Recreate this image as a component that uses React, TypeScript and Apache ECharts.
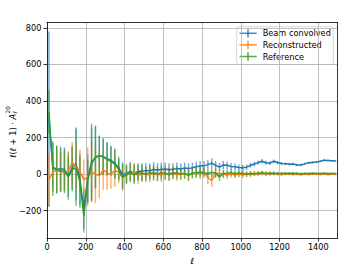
import React, { useEffect, useRef } from 'react';
import * as echarts from 'echarts';

const ells = [10, 30, 50, 70, 90, 110, 130, 150, 170, 190, 210, 230, 250, 270, 290, 310, 330, 350, 370, 390,
  410, 430, 450, 470, 490, 510, 530, 550, 570, 590, 610, 630, 650, 670, 690, 710, 730, 750, 770, 790,
  810, 830, 850, 870, 890, 910, 930, 950, 970, 990, 1010, 1030, 1050, 1070, 1090, 1110, 1130, 1150, 1170, 1190,
  1210, 1230, 1250, 1270, 1290, 1310, 1330, 1350, 1370, 1390, 1410, 1430, 1450, 1470, 1490];

const beamValues = [300, 40, 25, 30, 25, -10, 35, 55, -30, -190, -20, 65, 90, 100, 95, 85, 75, 60, 35, -5,
  5, 15, 5, 15, 15, 20, 18, 25, 22, 25, 28, 24, 26, 30, 28, 33, 30, 35, 40, 44,
  45, 52, 60, 48, 38, 50, 48, 42, 40, 36, 35, 38, 48, 55, 63, 70, 62, 60, 70, 63,
  58, 56, 54, 55, 50, 50, 56, 62, 64, 66, 70, 76, 75, 73, 71];
const beamErrors = [480, 130, 130, 120, 120, 130, 120, 200, 140, 110, 130, 210, 170, 110, 100, 90, 80, 80, 60, 70,
  50, 50, 50, 45, 45, 40, 40, 40, 38, 38, 35, 35, 33, 33, 30, 30, 30, 28, 28, 27,
  26, 25, 25, 24, 23, 22, 20, 19, 18, 17, 16, 15, 14, 13, 12, 12, 11, 10, 10, 9,
  9, 8, 8, 7, 7, 7, 6, 6, 6, 5, 5, 5, 5, 4, 4];

const reconValues = [-30, 10, 20, 12, 10, 15, 65, 40, 15, -30, -15, 15, 0, -10, 25, 5, 0, 20, 10, -20,
  0, 5, 10, -10, 5, 0, -5, 10, 0, -5, 5, 0, 10, -5, 0, 5, -10, 5, 10, 0,
  15, -20, -35, 5, 5, 0, -5, 0, -5, 0, -5, 0, -3, 2, 0, 5, 0, 8, 3, 0,
  -2, 0, 2, -2, 0, -3, 0, -2, 0, 2, -2, 0, -3, 0, -2];
const reconErrors = [145, 110, 120, 110, 100, 110, 110, 120, 120, 110, 160, 170, 160, 120, 110, 90, 80, 90, 60, 70,
  50, 50, 50, 45, 45, 40, 40, 40, 38, 38, 35, 35, 33, 33, 30, 30, 30, 28, 28, 27,
  26, 35, 35, 24, 23, 22, 20, 19, 18, 17, 16, 15, 14, 13, 12, 12, 11, 10, 10, 9,
  9, 8, 8, 7, 7, 7, 6, 6, 6, 5, 5, 5, 5, 4, 4];

const refValues = [340, 30, 25, 20, 15, -15, 25, 35, -45, -230, -40, 55, 95, 100, 95, 80, 70, 55, 25, -15,
  -5, 10, -5, 8, 5, 0, 8, 5, 0, 8, 3, -2, 5, 8, 0, 4, -5, 5, 8, 12,
  6, 2, 10, 5, -15, 3, 5, 8, 2, 4, 4, 0, 4, 2, 5, 7, 4, 2, 5, 3,
  3, 4, 3, 4, 3, 2, 3, 3, 4, 3, 3, 4, 3, 3, 3];
const refErrors = [120, 150, 130, 120, 120, 110, 120, 210, 140, 90, 120, 200, 170, 110, 100, 90, 80, 80, 60, 70,
  50, 50, 50, 45, 45, 40, 40, 40, 38, 38, 35, 35, 33, 33, 30, 30, 30, 28, 28, 27,
  26, 25, 25, 24, 23, 22, 20, 19, 18, 17, 16, 15, 14, 13, 12, 12, 11, 10, 10, 9,
  9, 8, 8, 7, 7, 7, 6, 6, 6, 5, 5, 5, 5, 4, 4];

const seriesNames = ['Beam convolved', 'Reconstructed', 'Reference'];
const xTicks = [0, 200, 400, 600, 800, 1000, 1200, 1400];
const yTicks = [-200, 0, 200, 400, 600, 800];
const colors = ['#1f77b4', '#ff7f0e', '#2ca02c'];

const FONT = 'DejaVu Sans';

const fmt = (v: number) => (v < 0 ? '\u2212' + String(-v) : String(v));

export default function App() {
  const ref = useRef<HTMLDivElement>(null);
  useEffect(() => {
    document.body.style.margin = '0';
    const chart = echarts.init(ref.current as HTMLDivElement, null, { renderer: 'svg' });
    const sets = [
      { v: beamValues, e: beamErrors },
      { v: reconValues, e: reconErrors },
      { v: refValues, e: refErrors },
    ];
    const series: any[] = [];
    sets.forEach((s, si) => {
      const color = colors[si];
      series.push({
        type: 'custom',
        name: seriesNames[si] + ' err',
        xAxisIndex: 0,
        yAxisIndex: 0,
        data: ells.map((x, i) => [x, s.v[i] - s.e[i], s.v[i] + s.e[i]]),
        encode: { x: 0, y: [1, 2] },
        renderItem: (params: any, api: any) => {
          const x = api.value(0);
          const p1 = api.coord([x, api.value(1)]);
          const p2 = api.coord([x, api.value(2)]);
          return {
            type: 'line',
            shape: { x1: p1[0], y1: p1[1], x2: p2[0], y2: p2[1] },
            style: { stroke: color, lineWidth: 1.4, opacity: 0.65 },
          };
        },
        z: 2,
      });
      series.push({
        type: 'line',
        name: seriesNames[si],
        xAxisIndex: 0,
        yAxisIndex: 0,
        data: ells.map((x, i) => [x, s.v[i]]),
        symbol: 'none',
        lineStyle: { color, width: 1.5 },
        itemStyle: { color },
        z: 2,
      });
    });

    const rows = [33.3, 44.9, 56.5];
    const legendChildren: any[] = [
      {
        type: 'rect',
        shape: { x: 236.7, y: 26.7, width: 96.6, height: 37.8, r: 2 },
        style: { fill: 'rgba(255,255,255,0.8)', stroke: '#cccccc', lineWidth: 0.8 },
      },
    ];
    rows.forEach((y, i) => {
      legendChildren.push({
        type: 'line',
        shape: { x1: 239.5, y1: y, x2: 256.7, y2: y },
        style: { stroke: colors[i], lineWidth: 1.5, opacity: 0.85 },
      });
      legendChildren.push({
        type: 'line',
        shape: { x1: 248, y1: y - 4.2, x2: 248, y2: y + 4.2 },
        style: { stroke: colors[i], lineWidth: 1.5, opacity: 0.85 },
      });
      legendChildren.push({
        type: 'text',
        x: 262.7,
        y: y,
        style: {
          text: seriesNames[i],
          fontSize: 8.2,
          fontFamily: FONT,
          fill: '#000',
          textAlign: 'left',
          textVerticalAlign: 'middle',
        },
      });
    });

    const option: any = {
      animation: false,
      backgroundColor: '#ffffff',
      grid: { left: 47, top: 22.7, right: 19.3, bottom: 31.7, containLabel: false },
      xAxis: [
        {
          type: 'value',
          min: 0,
          max: 1500,
          minInterval: 200,
          maxInterval: 200,
          name: 'ℓ',
          nameLocation: 'middle',
          nameGap: 14,
          nameTextStyle: { fontSize: 8.5, fontFamily: FONT, fontStyle: 'italic', color: '#000' },
          axisLine: { show: true, onZero: false, lineStyle: { color: '#000', width: 0.8 } },
          axisTick: { show: true, length: 3.5, lineStyle: { color: '#000', width: 0.8 }, customValues: xTicks },
          axisLabel: { fontSize: 8.2, fontFamily: FONT, color: '#000', margin: 5, customValues: xTicks, formatter: fmt },
          splitLine: { show: true, lineStyle: { color: '#b0b0b0', width: 0.8 } },
        },
        {
          type: 'value',
          position: 'top',
          min: 0,
          max: 1500,
          axisLine: { show: true, onZero: false, lineStyle: { color: '#000', width: 0.8 } },
          axisTick: { show: false },
          axisLabel: { show: false },
          splitLine: { show: false },
        },
      ],
      yAxis: [
        {
          type: 'value',
          min: -350,
          max: 828,
          minInterval: 200,
          maxInterval: 200,
          axisLine: { show: true, onZero: false, lineStyle: { color: '#000', width: 0.8 } },
          axisTick: { show: true, length: 3.5, lineStyle: { color: '#000', width: 0.8 }, customValues: yTicks },
          axisLabel: { fontSize: 8.2, fontFamily: FONT, color: '#000', margin: 5.5, customValues: yTicks, formatter: fmt },
          splitLine: { show: true, lineStyle: { color: '#b0b0b0', width: 0.8 } },
        },
        {
          type: 'value',
          position: 'right',
          min: -350,
          max: 828,
          axisLine: { show: true, onZero: false, lineStyle: { color: '#000', width: 0.8 } },
          axisTick: { show: false },
          axisLabel: { show: false },
          splitLine: { show: false },
        },
      ],
      series,
      graphic: [
        { type: 'group', children: legendChildren, z: 100 },
        {
          type: 'group',
          x: 12.5,
          y: 132,
          rotation: Math.PI / 2,
          children: [
            {
              type: 'text',
              x: 18,
              y: 0,
              style: {
                text: '{i|ℓ}({i|ℓ} + 1) · {i|A}',
                rich: { i: { fontStyle: 'italic', fontSize: 8.2, fontFamily: FONT, fill: '#000' } },
                fontSize: 8.2,
                fontFamily: FONT,
                fill: '#000',
                textAlign: 'right',
                textVerticalAlign: 'middle',
              },
            },
            {
              type: 'text',
              x: 18.6,
              y: 2.6,
              style: {
                text: 'ℓ',
                fontSize: 5.8,
                fontStyle: 'italic',
                fontFamily: FONT,
                fill: '#000',
                textAlign: 'left',
                textVerticalAlign: 'middle',
              },
            },
            {
              type: 'text',
              x: 18.6,
              y: -4.5,
              style: {
                text: '20',
                fontSize: 5.8,
                fontFamily: FONT,
                fill: '#000',
                textAlign: 'left',
                textVerticalAlign: 'middle',
              },
            },
          ],
        },
      ],
    };
    chart.setOption(option);
    return () => chart.dispose();
  }, []);
  return <div ref={ref} style={{ width: 357, height: 270 }} />;
}
